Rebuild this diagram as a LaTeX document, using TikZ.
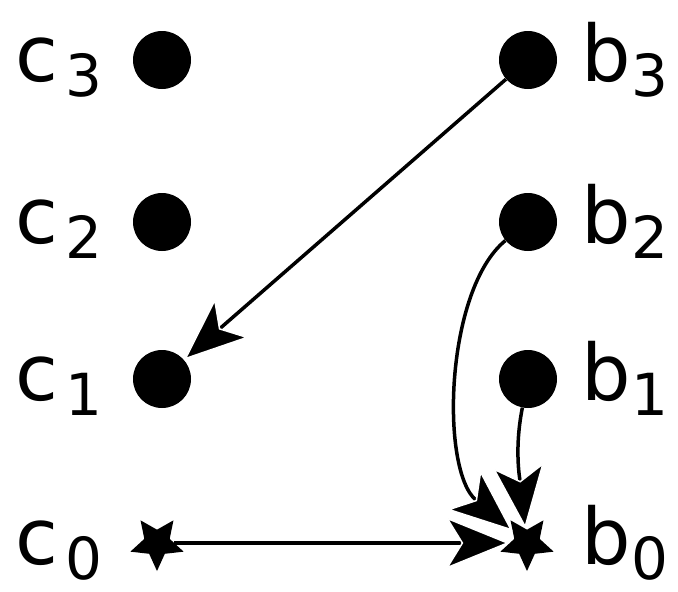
\documentclass[tikz,border=0pt]{standalone}
\usepackage{fontspec}
\setmainfont{DejaVu Sans}
\usetikzlibrary{arrows.meta,shapes.geometric}
\newcommand{\subl}[3][1pt]{#2\kern#1\raisebox{-15pt}{\fontsize{58}{62}\selectfont #3}}

\begin{document}
\begin{tikzpicture}[x=1pt,y=1pt,
  dot/.style={circle,fill=black,inner sep=0pt,minimum size=58pt},
  starnode/.style={star,star points=5,star point ratio=2.1,shape border rotate=180,fill=black,inner sep=0pt,minimum size=56pt},
  arr/.style={line width=3.5pt,-{Stealth[length=64pt,width=52pt,inset=16pt,color=white,fill=black,line width=1.5pt]}},
  lab/.style={inner sep=0pt,font=\fontsize{78}{82}\selectfont}]
  \useasboundingbox (0,0) rectangle (678,-592);
  \foreach \i/\y in {3/60,2/222,1/379} {
    \node[dot] (c\i) at (162,-\y) {};
    \node[dot] (b\i) at (528,-\y) {};
  }
  \node[starnode] (c0) at (157,-543) {};
  \node[starnode] (b0) at (527,-543) {};
  \foreach \i/\y in {3/60,2/222,1/379,0/543} {
    \node[lab,anchor=base east] (lc\i) at (103,-\y-21) {\subl[8pt]{c}{\i}};
    \node[lab,anchor=base west] (lb\i) at (581,-\y-21) {\subl{b}{\i}};
  }
  \draw[arr] (b3) -- (c1);
  \draw[arr] (c0) -- (b0);
  \draw[arr] (b1) .. controls (514,-450) and (520,-480) .. (b0);
  \draw[arr] (b2) .. controls (445,-290) and (440,-470) .. (b0);
\end{tikzpicture}
\end{document}
